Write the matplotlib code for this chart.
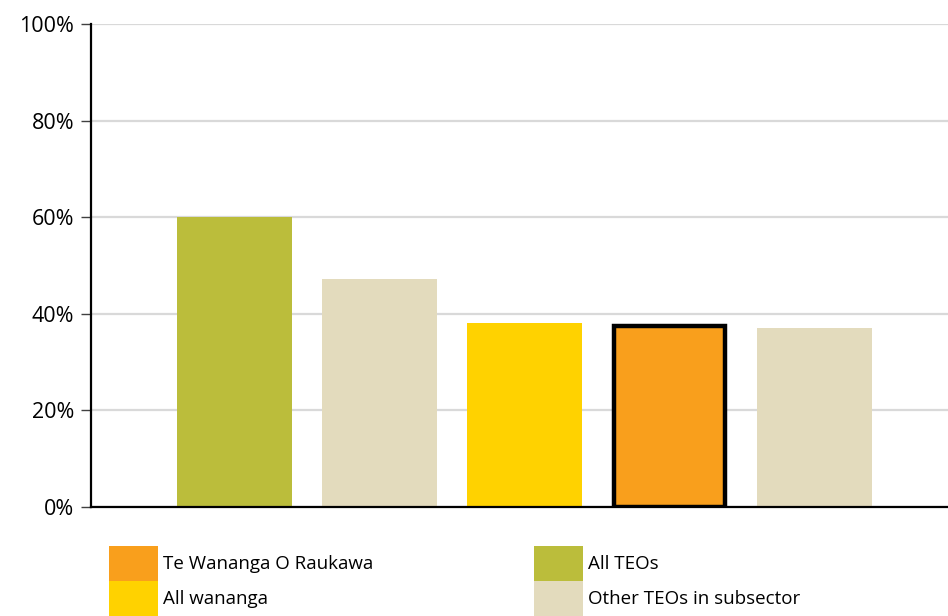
import matplotlib
matplotlib.use("Agg")
import matplotlib.pyplot as plt
from matplotlib.patches import Patch
from matplotlib.ticker import PercentFormatter

plt.rcParams['font.family'] = ['Open Sans', 'DejaVu Sans']

# values (percent)
groups = ["All TEOs", "Other TEOs in subsector", "All wananga",
          "Te Wananga O Raukawa", "Other TEOs in subsector"]
values = [60.0, 47.2, 38.1, 37.5, 37.1]
colours = {"All TEOs": "#BBBD3B",
           "Other TEOs in subsector": "#E3DBBD",
           "All wananga": "#FFD200",
           "Te Wananga O Raukawa": "#F99F1C"}
highlight = "Te Wananga O Raukawa"
yticks = [0, 20, 40, 60, 80, 100]

fig = plt.figure(figsize=(9.48, 6.16), dpi=100)
ax = fig.add_axes([0.096, 0.177, 0.904, 0.784])

for i, (g, v) in enumerate(zip(groups, values)):
    if g == highlight:
        ax.bar(i, v, width=0.765, color=colours[g], edgecolor='black', linewidth=3.2, zorder=3)
    else:
        ax.bar(i, v, width=0.79, color=colours[g], zorder=3)

ax.set_xlim(-0.99, 4.92)
ax.set_ylim(0, 100)
ax.set_yticks(yticks)
ax.yaxis.set_major_formatter(PercentFormatter(decimals=0))
ax.set_xticks([])
ax.grid(axis='y', color='#D9D9D9', linewidth=1.6, zorder=0)
ax.tick_params(axis='y', length=7, width=1, color='#404040', pad=5, labelsize=15.5)

for s in ['top', 'right']:
    ax.spines[s].set_visible(False)
ax.spines['left'].set_linewidth(1.6)
ax.spines['bottom'].set_linewidth(1.6)
ax.spines['left'].set_zorder(4)
ax.spines['bottom'].set_zorder(4)

legend_order = ["Te Wananga O Raukawa", "All wananga", "All TEOs", "Other TEOs in subsector"]
handles = [Patch(facecolor=colours[g], label=g) for g in legend_order]
fig.legend(handles=handles, ncol=2, loc='upper left', bbox_to_anchor=(0.115, 0.114),
           frameon=False, fontsize=13.5, handlelength=2.6, handleheight=2.49,
           labelspacing=0, handletextpad=0.27, columnspacing=8.6, borderpad=0, borderaxespad=0)

fig.savefig("out.png", dpi=100)
